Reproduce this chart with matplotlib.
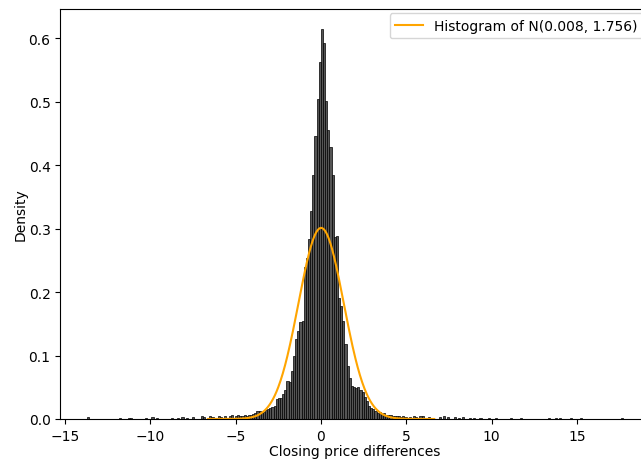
import numpy as np
import matplotlib

matplotlib.use("Agg")
import matplotlib.pyplot as plt

# histogram layout
hist_lo = -13.70
hist_hi = 17.70
n_bins = 250

# central bins, starting at bin index 70 (left edge about -4.91)
core_start = 70
core_heights = [
    0.006, 0.005, 0.004, 0.006, 0.005, 0.006, 0.007, 0.008, 0.009, 0.013,
    0.012, 0.010, 0.011, 0.014, 0.016, 0.018, 0.019, 0.021, 0.031, 0.033,
    0.033, 0.039, 0.045, 0.060, 0.058, 0.075, 0.100, 0.126, 0.139, 0.153,
    0.155, 0.239, 0.253, 0.283, 0.327, 0.385, 0.446, 0.504, 0.563, 0.615,
    0.593, 0.501, 0.455, 0.428, 0.385, 0.286, 0.288, 0.190, 0.178, 0.154,
    0.118, 0.084, 0.064, 0.052, 0.051, 0.049, 0.050, 0.046, 0.042, 0.035,
    0.028, 0.021, 0.018, 0.015, 0.012, 0.010, 0.011, 0.008, 0.009, 0.007,
    0.006, 0.007, 0.005, 0.004, 0.005, 0.004, 0.003, 0.004, 0.003, 0.002,
]

# sparse tail bars (position, density)
tail_x = [-13.68, -11.76, -11.3, -11.1, -10.2, -9.9, -9.6, -8.7, -8.4, -8.1,
          -7.8, -7.5, -7.0, -6.8, -6.5, -6.3, -6.0, -5.8, -5.6, -5.4, -5.2, -5.0,
          5.2, 5.4, 5.6, 5.8, 6.0, 6.3, 6.6, 6.9, 7.2, 7.5, 7.8, 8.1, 8.4, 8.7,
          9.0, 9.4, 9.8, 10.26, 11.14, 11.73, 13.4, 13.7, 14.0, 14.6, 15.3, 17.6]
tail_h = [0.003, 0.002, 0.002, 0.002, 0.002, 0.003, 0.002, 0.002, 0.002, 0.003,
          0.002, 0.003, 0.004, 0.003, 0.004, 0.003, 0.004, 0.003, 0.005, 0.004, 0.006, 0.005,
          0.003, 0.004, 0.003, 0.004, 0.005, 0.003, 0.002, 0.003, 0.004, 0.003, 0.003, 0.002, 0.003, 0.002,
          0.002, 0.002, 0.002, 0.002, 0.002, 0.002, 0.002, 0.002, 0.002, 0.002, 0.002, 0.002]

mu = 0.008
var = 1.756

edges = np.linspace(hist_lo, hist_hi, n_bins + 1)
bin_w = edges[1] - edges[0]
heights = np.zeros(n_bins)
for x, h in zip(tail_x, tail_h):
    heights[int((x - hist_lo) // bin_w)] = h
heights[core_start:core_start + len(core_heights)] = core_heights

plt.rcParams["font.size"] = 10

fig = plt.figure(figsize=(6.41, 4.60), dpi=100)
ax = fig.add_axes([0.094, 0.087, 0.92, 0.891])

ax.bar(edges[:-1], heights, width=bin_w, align="edge",
       facecolor="#555555", edgecolor="black", linewidth=0.5)

sigma = np.sqrt(var)
xs = np.linspace(mu - 5 * sigma, mu + 5 * sigma, 400)
pdf = np.exp(-0.5 * ((xs - mu) / sigma) ** 2) / (sigma * np.sqrt(2 * np.pi))
ax.plot(xs, pdf, color="orange", linewidth=1.5,
        label=f"Histogram of N({mu}, {var})")

ax.set_xlabel("Closing price differences", labelpad=1)
ax.set_ylabel("Density", labelpad=0.5)
ax.legend(loc="upper right", bbox_to_anchor=(1.0, 1.007))

fig.savefig("out.png", dpi=100)
